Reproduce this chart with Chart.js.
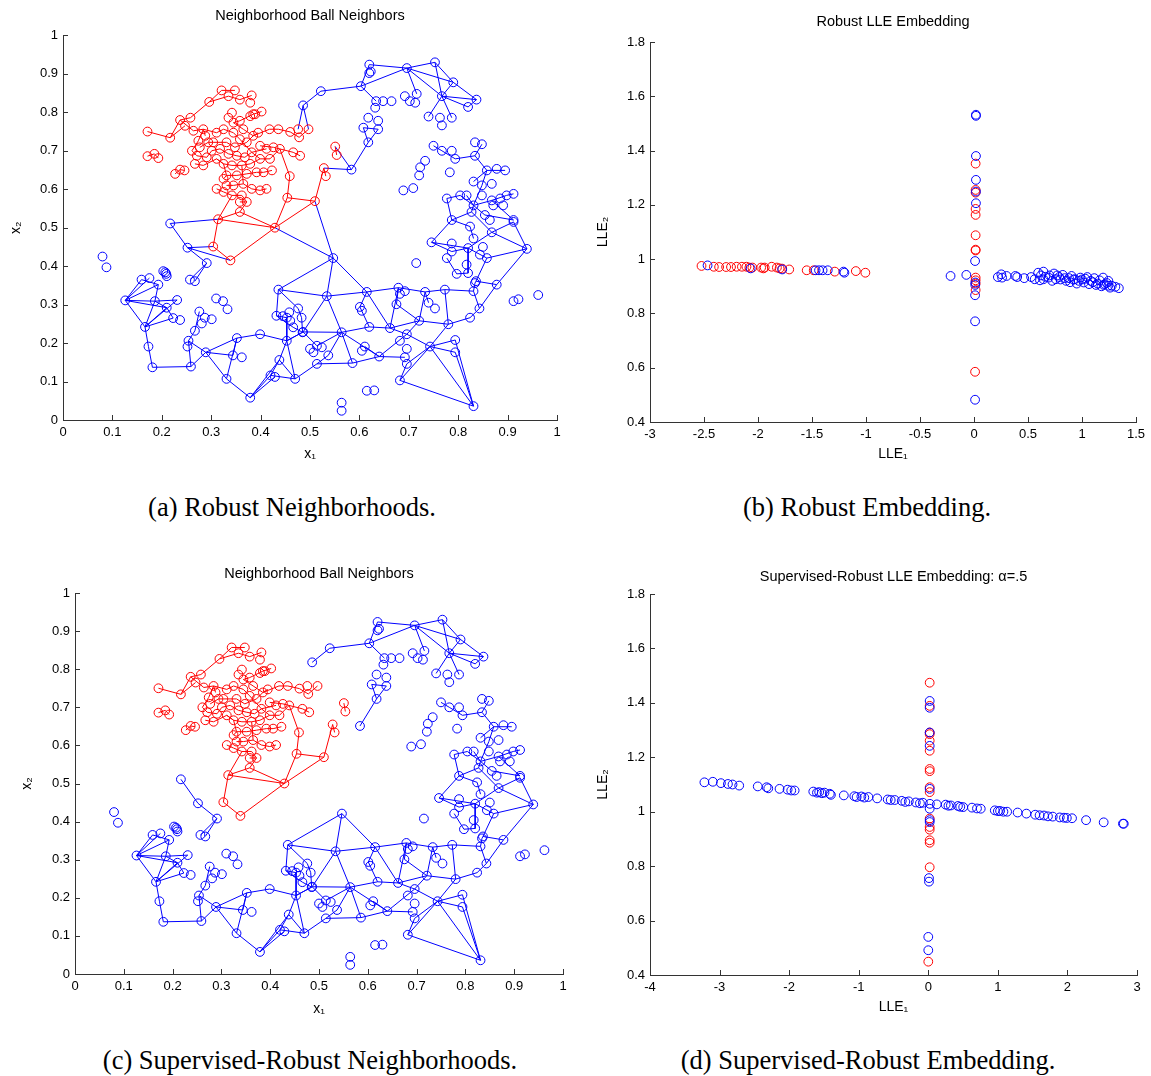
<!DOCTYPE html>
<html>
<head>
<meta charset="utf-8">
<script src="https://cdn.jsdelivr.net/npm/chart.js@4.4.1/dist/chart.umd.min.js"></script>
<style>
  body { margin: 0; background: #fff; width: 1151px; height: 1076px; position: relative; overflow: hidden; }
  canvas { position: absolute; }
  .caption { position: absolute; width: 500px; font-family: "Liberation Serif", "Times New Roman", serif; font-size: 26.5px; color: #000; text-align: center; line-height: 30px; white-space: nowrap; }
</style>
</head>
<body>
<canvas id="chartA" width="575" height="470" style="left:0;top:0"></canvas>
<canvas id="chartB" width="561" height="470" style="left:590px;top:0"></canvas>
<canvas id="chartC" width="575" height="470" style="left:0;top:560px"></canvas>
<canvas id="chartD" width="561" height="470" style="left:590px;top:560px"></canvas>
<div class="caption" style="left:42px;top:492px">(a) Robust Neighborhoods.</div>
<div class="caption" style="left:617px;top:492px">(b) Robust Embedding.</div>
<div class="caption" style="left:60px;top:1045px">(c) Supervised-Robust Neighborhoods.</div>
<div class="caption" style="left:618px;top:1045px">(d) Supervised-Robust Embedding.</div>
<script>
// ---- data: neighborhood panels (a) and (c) share the same points ----
const redPts = [
  [.171,.750],[.217,.734],[.171,.686],[.185,.692],[.193,.681],[.227,.640],[.237,.651],[.246,.649],
  [.237,.780],[.258,.786],[.247,.765],[.264,.752],
  [.296,.827],[.321,.857],[.348,.857],[.335,.842],[.358,.833],[.382,.844],[.379,.825],
  [.379,.790],[.402,.802],[.389,.795],
  [.418,.756],[.436,.756],[.460,.749],[.478,.735],[.476,.756],[.497,.756],
  [.466,.696],[.480,.687],[.459,.634],[.454,.578],[.429,.500],[.358,.541],[.314,.522],
  [.304,.451],[.339,.415],[.551,.711],[.554,.689],[.528,.655],[.532,.634],[.510,.569],
  [.261,.700],[.271,.687],[.277,.709],[.291,.683],[.301,.700],[.284,.662],[.267,.666],[.294,.722],
  [.311,.747],[.325,.756],[.345,.747],[.358,.730],[.331,.722],[.348,.709],[.372,.722],[.385,.739],
  [.395,.747],[.399,.713],[.382,.696],[.368,.683],[.352,.687],[.335,.692],[.318,.705],[.311,.679],
  [.325,.666],[.342,.662],[.362,.662],[.379,.666],[.399,.679],[.412,.705],[.426,.709],[.439,.705],
  [.419,.679],[.406,.644],[.423,.649],[.392,.644],[.372,.640],[.352,.636],[.331,.636],[.325,.627],
  [.345,.610],[.365,.614],[.382,.601],[.399,.597],[.412,.601],[.311,.601],[.325,.593],[.342,.584],
  [.362,.584],[.372,.567],[.358,.567],[.331,.610],[.284,.756],[.288,.739],[.304,.722],[.274,.726],
  [.345,.773],[.335,.786],[.358,.778],[.342,.799],[.385,.795],[.365,.756]
];

const bluePts = [
  [.486,.818],[.522,.855],[.603,.868],[.620,.924],[.623,.906],[.620,.902],[.696,.915],[.753,.930],
  [.790,.878],[.767,.842],[.837,.833],[.820,.814],[.692,.842],[.702,.829],[.716,.848],[.713,.825],
  [.634,.829],[.648,.829],[.665,.829],[.632,.812],[.740,.789],[.763,.786],[.787,.786],[.767,.766],
  [.618,.786],[.638,.778],[.608,.760],[.638,.756],[.618,.722],[.584,.651],
  [.750,.713],[.767,.700],[.787,.700],[.794,.679],[.834,.722],[.848,.717],[.834,.687],
  [.733,.674],[.723,.657],[.721,.636],[.783,.644],[.689,.597],[.709,.603],
  [.858,.649],[.878,.653],[.895,.649],[.831,.620],[.848,.610],[.868,.614],
  [.777,.576],[.804,.584],[.817,.584],[.831,.558],[.848,.584],[.868,.571],[.885,.576],[.898,.584],[.912,.588],
  [.787,.520],[.827,.541],[.854,.533],[.864,.520],[.912,.520],[.871,.558],[.891,.558],
  [.824,.503],[.868,.488],[.912,.515],[.831,.472],[.787,.459],[.746,.462],[.939,.445],
  [.777,.421],[.820,.447],[.844,.430],[.858,.421],[.817,.404],[.797,.380],[.820,.382],[.836,.361],
  [.878,.352],[.834,.356],[.831,.335],[.715,.408],[.787,.438],[.850,.450],
  [.547,.421],[.534,.322],[.615,.333],[.601,.294],[.605,.284],
  [.679,.344],[.692,.335],[.682,.328],[.675,.301],[.733,.333],[.740,.305],[.753,.290],[.773,.339],
  [.721,.258],[.780,.249],[.824,.266],[.843,.290],[.662,.239],[.620,.242],[.564,.228],[.486,.229],
  [.696,.223],[.682,.206],[.696,.185],[.692,.163],[.696,.146],[.743,.191],[.794,.208],[.794,.176],
  [.611,.191],[.605,.180],[.640,.165],[.586,.148],
  [.514,.193],[.500,.185],[.507,.176],[.524,.189],[.537,.168],[.514,.146],
  [.682,.103],[.615,.076],[.630,.077],[.564,.045],[.564,.024],[.831,.036],
  [.912,.309],[.922,.314],[.962,.325],
  [.080,.425],[.088,.397],[.217,.511],[.252,.448],[.291,.408],[.257,.365],[.267,.361],
  [.203,.387],[.209,.380],[.210,.374],[.207,.384],
  [.159,.365],[.175,.369],[.193,.352],[.126,.311],[.186,.309],[.210,.292],[.231,.312],
  [.223,.265],[.237,.260],[.166,.242],[.173,.191],[.181,.137],[.259,.139],
  [.254,.206],[.252,.191],[.267,.232],[.276,.282],[.287,.266],[.301,.262],[.281,.251],
  [.310,.316],[.324,.309],[.333,.288],[.289,.176],[.352,.213],[.344,.168],[.362,.163],
  [.331,.107],[.379,.058],[.399,.223],[.436,.339],[.432,.271],[.453,.266],[.460,.258],
  [.466,.241],[.476,.290],[.483,.266],[.445,.270],[.458,.280],
  [.453,.206],[.438,.156],[.420,.116],[.429,.112],[.470,.107],[.485,.228]
];

// neighbor links, as chains of points
const blueLinks = [
  [[.486,.818],[.522,.855],[.603,.868],[.696,.915],[.753,.930],[.790,.878],[.837,.833],[.820,.814],[.767,.842],[.753,.930]],
  [[.603,.868],[.620,.924],[.696,.915],[.767,.842],[.790,.878]],
  [[.696,.915],[.790,.878]],[[.696,.915],[.716,.848]],[[.603,.868],[.634,.829]],
  [[.767,.842],[.740,.789]],[[.767,.842],[.787,.786]],[[.767,.842],[.837,.833]],
  [[.584,.651],[.618,.722],[.638,.756],[.608,.760],[.618,.722]],
  [[.750,.713],[.767,.700],[.794,.679],[.834,.687],[.848,.717]],
  [[.834,.687],[.858,.649],[.895,.649]],[[.858,.649],[.831,.620]],
  [[.858,.649],[.848,.610],[.831,.558],[.817,.584]],
  [[.777,.576],[.804,.584],[.831,.558],[.868,.571],[.898,.584],[.912,.588]],
  [[.787,.520],[.827,.541],[.831,.558],[.854,.533],[.912,.520],[.868,.571]],
  [[.777,.576],[.787,.520],[.746,.462],[.820,.447],[.858,.421],[.939,.445],[.912,.515],[.868,.488],[.827,.541]],
  [[.746,.462],[.787,.438],[.820,.447],[.868,.488],[.939,.445]],
  [[.831,.472],[.824,.503],[.787,.520]],
  [[.858,.421],[.836,.361],[.878,.352],[.939,.445]],
  [[.820,.447],[.820,.382],[.797,.380],[.777,.421]],
  [[.836,.361],[.834,.356],[.831,.335],[.843,.290]],
  [[.878,.352],[.843,.290],[.824,.266],[.780,.249],[.721,.258],[.675,.301],[.679,.344],[.733,.333],[.773,.339],[.831,.335]],
  [[.721,.258],[.733,.333]],[[.721,.258],[.696,.223],[.743,.191],[.780,.249]],[[.773,.339],[.780,.249]],
  [[.743,.191],[.794,.208],[.831,.036],[.794,.176],[.743,.191]],
  [[.743,.191],[.831,.036],[.682,.103],[.743,.191]],[[.682,.103],[.696,.146],[.743,.191]],
  [[.696,.223],[.640,.165],[.586,.148],[.564,.228],[.640,.165]],
  [[.696,.223],[.662,.239],[.620,.242],[.564,.228]],[[.662,.239],[.721,.258]],
  [[.662,.239],[.679,.344],[.615,.333],[.662,.239]],[[.615,.333],[.601,.294],[.620,.242]],
  [[.615,.333],[.547,.421],[.534,.322],[.615,.333]],
  [[.534,.322],[.564,.228],[.486,.229],[.534,.322]],[[.564,.228],[.514,.193],[.486,.229]],
  [[.564,.228],[.537,.168],[.514,.146],[.586,.148]],[[.486,.229],[.453,.206],[.470,.107],[.514,.146]],
  [[.547,.421],[.436,.339],[.534,.322]],[[.733,.333],[.740,.305]],[[.692,.163],[.640,.165]],[[.611,.191],[.640,.165]],
  [[.126,.311],[.159,.365],[.193,.352],[.126,.311],[.175,.369]],
  [[.126,.311],[.186,.309],[.231,.312],[.166,.242],[.126,.311]],
  [[.126,.311],[.210,.292],[.166,.242],[.186,.309]],[[.166,.242],[.223,.265],[.210,.292]],
  [[.193,.352],[.186,.309],[.210,.292]],
  [[.166,.242],[.173,.191],[.181,.137],[.259,.139],[.289,.176],[.254,.206],[.259,.139]],
  [[.254,.206],[.267,.232],[.276,.282]],
  [[.289,.176],[.352,.213],[.331,.107],[.289,.176],[.344,.168],[.352,.213]],
  [[.331,.107],[.379,.058],[.438,.156],[.453,.206],[.399,.223],[.352,.213]],
  [[.379,.058],[.420,.116],[.470,.107],[.438,.156],[.420,.116]],[[.379,.058],[.429,.112]],
  [[.436,.339],[.432,.271],[.453,.266],[.453,.206]],
  [[.436,.339],[.476,.290],[.483,.266],[.485,.228],[.453,.206]],[[.432,.271],[.466,.241],[.485,.228]],
  [[.217,.511],[.252,.448],[.291,.408],[.267,.361]],[[.291,.408],[.257,.365]]
];

// blue links that reach red points (unsupervised panel only)
const crossLinks = [
  [[.217,.511],[.314,.522]],[[.252,.448],[.304,.451]],[[.252,.448],[.339,.415]],
  [[.547,.421],[.510,.569]],[[.547,.421],[.429,.500]],
  [[.584,.651],[.551,.711]],[[.584,.651],[.528,.655]],
  [[.486,.818],[.476,.756]],[[.486,.818],[.497,.756]]
];

const redLinks = [
  [[.171,.750],[.217,.734],[.237,.780],[.264,.752]],[[.217,.734],[.247,.765]],
  [[.237,.780],[.258,.786],[.296,.827],[.321,.857],[.348,.857]],
  [[.296,.827],[.335,.842],[.358,.833],[.382,.844]],
  [[.264,.752],[.284,.756],[.311,.747],[.325,.756],[.345,.747]],
  [[.345,.773],[.358,.778],[.385,.795],[.402,.802]],
  [[.345,.773],[.365,.756],[.385,.739],[.418,.756],[.436,.756],[.460,.749],[.478,.735],[.497,.756]],
  [[.399,.713],[.426,.709],[.466,.696],[.480,.687]],
  [[.439,.705],[.459,.634],[.454,.578],[.429,.500],[.358,.541],[.372,.567]],
  [[.429,.500],[.314,.522],[.342,.584]],
  [[.314,.522],[.304,.451],[.339,.415],[.429,.500]],[[.358,.541],[.314,.522]],
  [[.429,.500],[.510,.569],[.528,.655],[.532,.634]],[[.510,.569],[.454,.578]],
  [[.551,.711],[.554,.689]],[[.227,.640],[.237,.651],[.246,.649]],[[.171,.686],[.185,.692],[.193,.681]],
  [[.261,.700],[.271,.687],[.291,.683],[.301,.700],[.318,.705],[.335,.692],[.352,.687],[.368,.683],[.382,.696],[.399,.679],[.419,.679],[.439,.705]],
  [[.267,.666],[.284,.662],[.311,.679],[.325,.666],[.342,.662],[.362,.662],[.379,.666],[.399,.679]],
  [[.277,.709],[.294,.722],[.304,.722],[.331,.722],[.348,.709],[.372,.722],[.385,.739],[.395,.747]],
  [[.325,.627],[.331,.636],[.352,.636],[.372,.640],[.392,.644],[.406,.644],[.423,.649]],
  [[.311,.601],[.325,.593],[.342,.584],[.362,.584],[.372,.567],[.358,.567]],
  [[.331,.610],[.345,.610],[.365,.614],[.382,.601],[.399,.597],[.412,.601]],
  [[.288,.739],[.284,.756],[.274,.726],[.261,.700]],
  [[.345,.747],[.358,.730],[.382,.696],[.412,.705]],
  [[.311,.679],[.325,.666],[.331,.636]],[[.362,.662],[.365,.614]]
];

const unitTicks = [0, 0.1, 0.2, 0.3, 0.4, 0.5, 0.6, 0.7, 0.8, 0.9, 1];

// ---- data: embedding panel (b) ----
const redB = [
  [-2.523,.975],[-2.409,.972],[-2.360,.971],[-2.295,.971],[-2.250,.971],[-2.198,.972],[-2.149,.972],
  [-2.107,.972],[-2.080,.969],[-2.052,.969],[-1.971,.969],[-1.950,.966],[-1.938,.969],[-1.873,.972],
  [-1.825,.969],[-1.800,.966],[-1.776,.965],[-1.711,.962],[-1.549,.959],[-1.484,.959],[-1.289,.954],
  [-1.094,.956],[-1.006,.950],
  [.015,1.352],[.015,1.255],[.015,1.245],[.015,1.185],[.015,1.163],[.015,1.088],[.015,1.035],
  [.015,1.032],[.015,.932],[.015,.922],[.015,.910],[.015,.886],[.010,.585]
];
const blueB = [
  [-2.467,.977],[-2.068,.966],[-1.776,.962],[-1.467,.959],[-1.435,.959],[-1.402,.959],[-1.354,.959],
  [-1.208,.954],[-1.200,.950],[-.217,.938],[-.071,.942],
  [.018,1.532],[.018,1.528],[.018,1.380],[.018,1.292],[.018,1.249],[.018,1.206],[.010,.993],
  [.012,.914],[.012,.905],[.010,.867],[.010,.771],[.010,.482],
  [.221,.934],[.253,.944],[.260,.932],[.302,.938],[.383,.938],[.400,.934],[.465,.930],[.529,.934],
  [.562,.926],[.594,.950],[.611,.922],[.620,.940],[.643,.954],[.643,.926],[.660,.935],[.692,.932],
  [.700,.940],[.724,.920],[.741,.947],[.757,.926],[.770,.940],[.789,.934],[.800,.925],[.822,.942],
  [.840,.930],[.854,.920],[.880,.930],[.890,.915],[.903,.938],[.920,.925],[.935,.926],[.952,.910],
  [.970,.920],[.984,.932],[1.000,.925],[1.017,.914],[1.030,.928],[1.049,.934],[1.065,.908],
  [1.081,.920],[1.100,.915],[1.114,.930],[1.130,.905],[1.146,.910],[1.163,.922],[1.180,.900],
  [1.195,.932],[1.200,.905],[1.211,.908],[1.230,.912],[1.244,.920],[1.244,.902],[1.260,.895],
  [1.276,.902],[1.309,.898],[1.341,.893]
];
const xTicksB = [-3, -2.5, -2, -1.5, -1, -0.5, 0, 0.5, 1, 1.5];
const yTicksE = [0.4, 0.6, 0.8, 1, 1.2, 1.4, 1.6, 1.8];

// ---- data: embedding panel (d) ----
const redD = [
  [.02,1.474],[.02,1.389],[.02,1.291],[.02,1.285],[.02,1.261],[.02,1.224],[.02,1.157],[.02,1.149],
  [.02,1.090],[.02,1.072],[.02,.975],[.02,.944],[.02,.934],[.02,.895],[.02,.886],[.02,.796],[.0,.449]
];
const blueD = [
  [-3.218,1.108],[-3.097,1.110],[-2.981,1.105],[-2.880,1.102],[-2.814,1.100],[-2.718,1.096],
  [-2.451,1.093],[-2.324,1.090],[-2.300,1.086],[-2.138,1.084],[-2.022,1.081],[-1.970,1.078],[-1.921,1.078],
  [-1.653,1.074],[-1.600,1.070],[-1.568,1.072],[-1.530,1.068],[-1.492,1.070],[-1.416,1.066],[-1.400,1.062],
  [-1.214,1.060],[-1.063,1.057],[-1.030,1.054],[-.962,1.056],[-.920,1.052],[-.861,1.054],[-.735,1.049],
  [-.583,1.045],[-.540,1.043],[-.482,1.043],[-.381,1.040],[-.330,1.036],[-.280,1.038],[-.179,1.034],
  [-.120,1.031],[-.078,1.033],[.023,1.029],[.123,1.027],[.250,1.026],[.290,1.022],[.325,1.023],
  [.426,1.021],[.460,1.018],[.502,1.017],[.628,1.015],[.700,1.012],[.754,1.011],[.956,1.005],
  [1.000,1.002],[1.032,1.003],[1.080,1.000],[1.133,1.000],[1.284,.997],[1.410,.993],[1.537,.989],
  [1.600,.987],[1.663,.986],[1.720,.983],[1.789,.982],[1.890,.979],[1.950,.978],[1.991,.977],
  [2.066,.976],[2.268,.969],[2.521,.961],[2.798,.956],[2.810,.956],
  [.02,1.407],[.02,1.382],[.02,1.291],[.02,1.242],[.02,1.084],[.02,1.011],[.02,.969],[.02,.962],
  [.01,.756],[.01,.743],[.0,.540],[.0,.491]
];
const xTicksD = [-4, -3, -2, -1, 0, 1, 2, 3];

// ---- helpers ----
function toPoints(list) {
  return list.map(p => ({ x: p[0], y: p[1] }));
}
// chains -> one dataset, null y breaks the line between chains
function toSegments(chains) {
  const out = [];
  chains.forEach(chain => {
    chain.forEach(p => out.push({ x: p[0], y: p[1] }));
    out.push({ x: chain[chain.length - 1][0], y: null });
  });
  return out;
}
function circles(list, color) {
  return {
    data: toPoints(list), showLine: false, pointStyle: 'circle', pointRadius: 4.4,
    pointBorderWidth: 1, pointBorderColor: color, pointBackgroundColor: 'rgba(0,0,0,0)'
  };
}
function links(chains, color) {
  return {
    data: toSegments(chains), showLine: true, spanGaps: false, pointRadius: 0,
    borderColor: color, borderWidth: 1
  };
}

// MATLAB style ticks pointing into the plot
const inwardTicks = {
  id: 'inwardTicks',
  afterDraw(chart) {
    const { ctx, chartArea, scales } = chart;
    ctx.save();
    ctx.strokeStyle = '#333';
    ctx.lineWidth = 1;
    ctx.beginPath();
    scales.x.ticks.forEach(t => {
      const px = Math.round(scales.x.getPixelForValue(t.value)) + 0.5;
      ctx.moveTo(px, chartArea.bottom);
      ctx.lineTo(px, chartArea.bottom - 5);
    });
    scales.y.ticks.forEach(t => {
      const py = Math.round(scales.y.getPixelForValue(t.value)) + 0.5;
      ctx.moveTo(chartArea.left, py);
      ctx.lineTo(chartArea.left + 5, py);
    });
    ctx.stroke();
    ctx.restore();
  }
};

function makeChart(id, o) {
  const font = { family: '"Liberation Sans", Arial, sans-serif', size: 13 };
  return new Chart(document.getElementById(id), {
    type: 'scatter',
    data: { datasets: o.datasets },
    options: {
      responsive: false, animation: false, devicePixelRatio: 1, events: [],
      layout: { padding: { left: 0, right: o.padRight, top: 0, bottom: 0 } },
      plugins: {
        legend: { display: false }, tooltip: { enabled: false },
        title: {
          display: true, text: o.title, color: '#000', fullSize: false,
          font: { family: font.family, size: 14.5, weight: 'normal' },
          padding: o.titlePad
        }
      },
      scales: {
        x: {
          type: 'linear', min: o.xTicks[0], max: o.xTicks[o.xTicks.length - 1],
          grid: { display: false, drawTicks: false }, border: { display: true, color: '#333', width: 1 },
          afterBuildTicks: s => { s.ticks = o.xTicks.map(v => ({ value: v })); },
          afterFit: s => { s.height = o.xAxisH; },
          ticks: { color: '#000', font: font, padding: 5, maxRotation: 0, autoSkip: false, callback: v => String(v) },
          title: { display: true, text: o.xTitle, color: '#000', font: { family: font.family, size: 14 }, padding: { top: 0, bottom: o.xTitlePad } }
        },
        y: {
          type: 'linear', min: o.yTicks[0], max: o.yTicks[o.yTicks.length - 1],
          grid: { display: false, drawTicks: false }, border: { display: true, color: '#333', width: 1 },
          afterBuildTicks: s => { s.ticks = o.yTicks.map(v => ({ value: v })); },
          afterFit: s => { s.width = o.yAxisW; },
          ticks: { color: '#000', font: font, padding: 5, autoSkip: false, callback: v => String(v) },
          title: { display: true, text: o.yTitle, color: '#000', font: { family: font.family, size: 14 }, padding: { top: o.yTitlePad, bottom: 0 } }
        }
      }
    },
    plugins: [inwardTicks]
  });
}

const BLUE = 'rgb(0,0,255)';
const RED = 'rgb(255,0,0)';

makeChart('chartA', {
  title: 'Neighborhood Ball Neighbors', titlePad: { top: 7, bottom: 11 },
  padRight: 18, yAxisW: 63, xAxisH: 50, xTitlePad: 7, yTitlePad: 8,
  xTicks: unitTicks, yTicks: unitTicks, xTitle: 'x\u2081', yTitle: 'x\u2082',
  datasets: [circles(bluePts, BLUE), circles(redPts, RED), links(redLinks, RED), links(blueLinks.concat(crossLinks), BLUE)]
});

makeChart('chartB', {
  title: 'Robust LLE Embedding', titlePad: { top: 13, bottom: 11.6 },
  padRight: 15, yAxisW: 60, xAxisH: 48, xTitlePad: 7, yTitlePad: 5,
  xTicks: xTicksB, yTicks: yTicksE, xTitle: 'LLE\u2081', yTitle: 'LLE\u2082',
  datasets: [circles(blueB, BLUE), circles(redB, RED)]
});

makeChart('chartC', {
  title: 'Neighborhood Ball Neighbors', titlePad: { top: 5, bottom: 10.6 },
  padRight: 12, yAxisW: 75, xAxisH: 56, xTitlePad: 12, yTitlePad: 19,
  xTicks: unitTicks, yTicks: unitTicks, xTitle: 'x\u2081', yTitle: 'x\u2082',
  datasets: [circles(bluePts, BLUE), circles(redPts, RED), links(redLinks, RED), links(blueLinks, BLUE)]
});

makeChart('chartD', {
  title: 'Supervised-Robust LLE Embedding: \u03b1=.5', titlePad: { top: 8, bottom: 8.6 },
  padRight: 14, yAxisW: 60, xAxisH: 55, xTitlePad: 14, yTitlePad: 5,
  xTicks: xTicksD, yTicks: yTicksE, xTitle: 'LLE\u2081', yTitle: 'LLE\u2082',
  datasets: [circles(blueD, BLUE), circles(redD, RED)]
});
</script>
</body>
</html>
